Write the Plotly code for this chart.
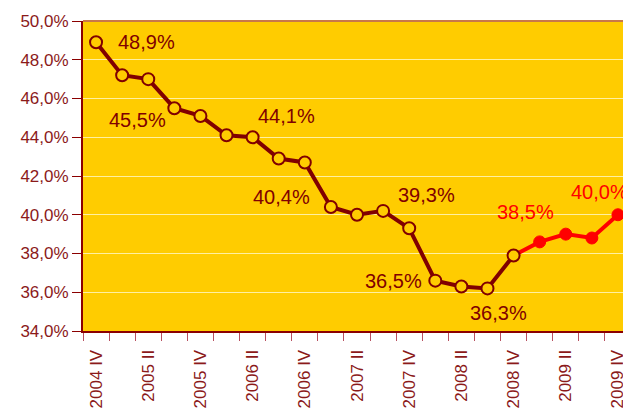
import plotly.graph_objects as go

quarters = ["2004 IV", "2005 I", "2005 II", "2005 III", "2005 IV",
            "2006 I", "2006 II", "2006 III", "2006 IV",
            "2007 I", "2007 II", "2007 III", "2007 IV",
            "2008 I", "2008 II", "2008 III", "2008 IV",
            "2009 I", "2009 II", "2009 III", "2009 IV"]
values = [48.9, 47.2, 47.0, 45.5, 45.1, 44.1, 44.0, 42.9, 42.7,
          40.4, 40.0, 40.2, 39.3, 36.6, 36.3, 36.2, 37.9,
          38.6, 39.0, 38.8, 40.0]
split_quarter = "2008 IV"   # last actual value; forecast after it
label_quarters = ["2004 IV", "2005 III", "2006 I", "2007 I", "2007 IV",
                  "2008 I", "2008 III", "2009 I", "2009 IV"]
label_texts = ["48,9%", "45,5%", "44,1%", "40,4%", "39,3%",
               "36,5%", "36,3%", "38,5%", "40,0%"]
tick_labels = ["2004 IV", "2005 II", "2005 IV", "2006 II", "2006 IV",
               "2007 II", "2007 IV", "2008 II", "2008 IV", "2009 II", "2009 IV"]

DARK = "#800000"
RED = "#FF0000"
BG = "#FFCC00"

si = quarters.index(split_quarter)
actual_y = [v if i <= si else None for i, v in enumerate(values)]
fc_y = [v if i >= si else None for i, v in enumerate(values)]

fig = go.Figure()
fig.add_trace(go.Scatter(
    x=quarters, y=fc_y, mode="lines+markers",
    line=dict(color=RED, width=4),
    marker=dict(color=RED, size=12, line=dict(color=RED, width=1)),
    showlegend=False, cliponaxis=False))
fig.add_trace(go.Scatter(
    x=quarters, y=actual_y, mode="lines+markers",
    line=dict(color=DARK, width=4),
    marker=dict(color=BG, size=12, line=dict(color=DARK, width=2)),
    showlegend=False, cliponaxis=False))

# label offsets in pixels (style only)
offsets = [(50, 0), (-37, -12), (60, 19), (-49, 10), (17, 33),
           (-42, 0), (11, -25), (-14, 30), (-18, 23)]
for q, t, (dx, dy) in zip(label_quarters, label_texts, offsets):
    i = quarters.index(q)
    col = RED if i > si else DARK
    fig.add_annotation(x=q, y=values[i], text=t, showarrow=False,
                       xshift=dx, yshift=dy, xanchor="center", yanchor="middle",
                       font=dict(size=20, color=col, family="Liberation Sans, Arial"))

ticktext = [q if q in tick_labels else "" for q in quarters]

fig.update_layout(
    width=623, height=404,
    margin=dict(l=75, r=0, t=13, b=81),
    paper_bgcolor="white", plot_bgcolor=BG,
    separators=",.",
    font=dict(family="Liberation Sans, Arial", color="#8B1A1A"),
    xaxis=dict(type="category", categoryorder="array", categoryarray=quarters,
               range=[-0.5, len(quarters) - 0.5],
               tickmode="array", tickvals=quarters, ticktext=ticktext,
               tickson="boundaries", ticks="outside", ticklen=8,
               tickcolor="#B85060", tickwidth=1, ticklabelstandoff=10,
               tickangle=-90, tickfont=dict(size=17, color="#8B1A1A"),
               showline=True, linecolor="#8B0000", linewidth=2,
               showgrid=False, zeroline=False),
    yaxis=dict(range=[34, 50], dtick=2, tick0=34, tickformat=".1f", ticksuffix="%",
               ticks="outside", ticklen=9, tickcolor="#8B0000",
               tickfont=dict(size=17, color="#8B1A1A"),
               showline=True, linecolor="#8B0000", linewidth=2,
               showgrid=True, gridcolor="#FFF0A0", gridwidth=1, zeroline=False),
    shapes=[dict(type="line", xref="paper", yref="paper", x0=0, x1=1, y0=1, y1=1,
                 line=dict(color="#C8784A", width=2))],
)

fig.write_html("out.html")
